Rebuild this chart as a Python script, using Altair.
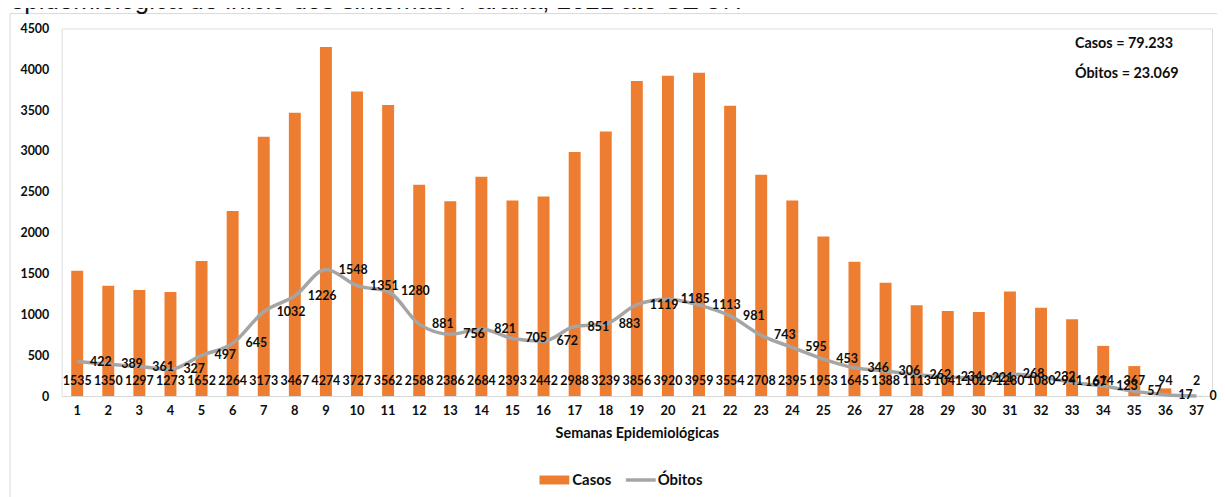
import altair as alt
import pandas as pd

semanas = list(range(1, 38))
casos = [1535, 1350, 1297, 1273, 1652, 2264, 3173, 3467, 4274, 3727, 3562, 2588,
         2386, 2684, 2393, 2442, 2988, 3239, 3856, 3920, 3959, 3554, 2708, 2395,
         1953, 1645, 1388, 1113, 1041, 1029, 1280, 1080, 941, 614, 367, 94, 2]
obitos = [422, 389, 361, 327, 497, 645, 1032, 1226, 1548, 1351, 1280, 881,
          756, 821, 705, 672, 851, 883, 1119, 1185, 1113, 981, 743, 595,
          453, 346, 306, 262, 234, 221, 268, 232, 167, 123, 57, 17, 0]
y_ticks = [0, 500, 1000, 1500, 2000, 2500, 3000, 3500, 4000, 4500]

titulo = "epidemiológica de início dos sintomas. Paraná, 2021 até SE 37."
total_casos = "Casos = 79.233"
total_obitos = "Óbitos = 23.069"

ORANGE = "#ED7D31"
GRAY = "#A5A5A5"
FONT = "Lato"
TXT = "#0d0d0d"

df = pd.DataFrame({"Semana": semanas, "Casos": casos, "Obitos": obitos})
one = pd.DataFrame({"k": [0]})

W, H = 1158, 370

x = alt.X("Semana:O",
          scale=alt.Scale(paddingInner=0.616, paddingOuter=0.308),
          axis=alt.Axis(title="Semanas Epidemiológicas", labelAngle=0, ticks=False,
                        domainColor="#D9D9D9", domainWidth=1,
                        labelFont=FONT, labelFontWeight="bold", labelFontSize=13,
                        labelColor=TXT, labelPadding=9,
                        titleFont=FONT, titleFontSize=14.5, titleFontWeight="bold",
                        titleColor=TXT, titlePadding=9))

y_scale = alt.Scale(domain=[0, 4500], nice=False)
y_axis = alt.Axis(title=None, values=y_ticks, format="d", grid=False, ticks=False,
                  domain=False, labelFont=FONT, labelFontWeight="bold",
                  labelFontSize=12.5, labelColor=TXT, labelPadding=13)

bars = alt.Chart(df).mark_bar(color=ORANGE).encode(
    x=x, y=alt.Y("Casos:Q", scale=y_scale, axis=y_axis))

line = alt.Chart(df).mark_line(color=GRAY, strokeWidth=3.5, interpolate="monotone").encode(
    x=x, y=alt.Y("Obitos:Q", scale=y_scale))

casos_lbl = alt.Chart(df).mark_text(font=FONT, fontWeight="bold", fontSize=12.5,
                                    baseline="middle", align="center", color=TXT).encode(
    x=x, y=alt.value(355), text="Casos:Q")

obitos_lbl = alt.Chart(df).mark_text(font=FONT, fontWeight="bold", fontSize=12.5,
                                     baseline="middle", align="left", dx=13, color=TXT).encode(
    x=x, y=alt.Y("Obitos:Q", scale=y_scale), text="Obitos:Q")

frame_top = alt.Chart(one).mark_rule(color="#D9D9D9", strokeWidth=1).encode(
    x=alt.value(-52), x2=alt.value(1165), y=alt.value(-15))
frame_left = alt.Chart(one).mark_rule(color="#D9D9D9", strokeWidth=1).encode(
    x=alt.value(-52), y=alt.value(-15), y2=alt.value(480))

title_txt = alt.Chart(one).mark_text(text=titulo, font="Liberation Sans", fontSize=26,
                                     align="left", baseline="alphabetic", color="#111").encode(
    x=alt.value(-52), y=alt.value(-20))

ann1 = alt.Chart(one).mark_text(text=total_casos, font=FONT, fontWeight="bold", fontSize=14.5,
                                align="left", baseline="middle", color=TXT).encode(
    x=alt.value(1020), y=alt.value(16))
ann2 = alt.Chart(one).mark_text(text=total_obitos, font=FONT, fontWeight="bold", fontSize=14.5,
                                align="left", baseline="middle", color=TXT).encode(
    x=alt.value(1020), y=alt.value(46))

leg_rect = alt.Chart(one).mark_rect(color=ORANGE).encode(
    x=alt.value(481), x2=alt.value(511), y=alt.value(450), y2=alt.value(459))
leg_txt1 = alt.Chart(one).mark_text(text="Casos", font=FONT, fontWeight="bold", fontSize=15,
                                    align="left", baseline="middle", color=TXT).encode(
    x=alt.value(514), y=alt.value(454.5))
leg_line = alt.Chart(one).mark_rule(color=GRAY, strokeWidth=3.5).encode(
    x=alt.value(568), x2=alt.value(598), y=alt.value(454.5))
leg_txt2 = alt.Chart(one).mark_text(text="Óbitos", font=FONT, fontWeight="bold", fontSize=15,
                                    align="left", baseline="middle", color=TXT).encode(
    x=alt.value(600), y=alt.value(454.5))

chart = alt.layer(
    frame_top, frame_left, title_txt, bars, line, casos_lbl, obitos_lbl,
    ann1, ann2, leg_rect, leg_txt1, leg_line, leg_txt2
).properties(
    width=W, height=H,
    autosize=alt.AutoSizeParams(type="none"),
    padding={"left": 54, "top": 19, "right": 5, "bottom": 100},
).configure_view(stroke=None).configure(background="white")

chart.save("out.html", embed_options={"renderer": "svg", "actions": False})
